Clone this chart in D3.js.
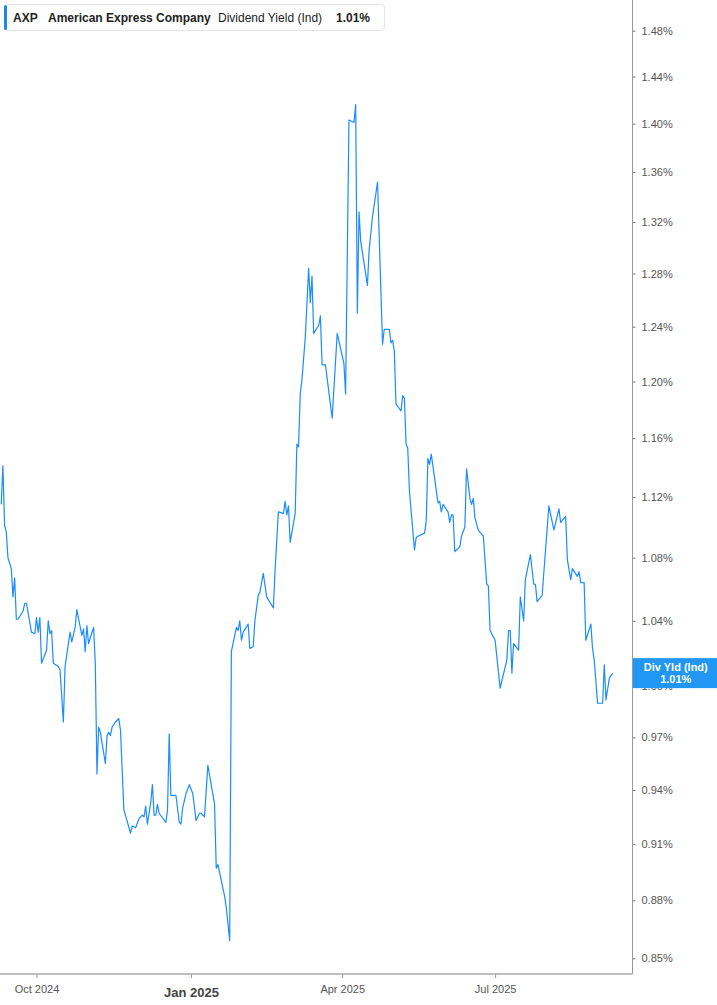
<!DOCTYPE html>
<html><head><meta charset="utf-8">
<script src="https://cdn.jsdelivr.net/npm/d3@7"></script>
<style>body{margin:0;background:#fff;} svg{display:block;font-family:"Liberation Sans",Arial,sans-serif;}</style>
</head><body><svg id="c" width="717" height="1005"></svg>
<script>
const ticker = "AXP";
const company = "American Express Company";
const metric = "Dividend Yield (Ind)";
const badgeTitle = "Div Yld (Ind)";

const dates = [
"2024-09-10","2024-09-11","2024-09-12","2024-09-13","2024-09-14","2024-09-16","2024-09-17","2024-09-18","2024-09-19","2024-09-20",
"2024-09-23","2024-09-24","2024-09-25","2024-09-28","2024-09-30","2024-10-01","2024-10-02","2024-10-03","2024-10-04","2024-10-07",
"2024-10-08","2024-10-09","2024-10-10","2024-10-11","2024-10-14","2024-10-15","2024-10-17","2024-10-18","2024-10-21","2024-10-22",
"2024-10-24","2024-10-25","2024-10-28","2024-10-29","2024-10-30","2024-10-31","2024-11-01","2024-11-04","2024-11-05","2024-11-06",
"2024-11-07","2024-11-08","2024-11-11","2024-11-12","2024-11-13","2024-11-14","2024-11-15","2024-11-17","2024-11-19","2024-11-20",
"2024-11-22","2024-11-26","2024-11-27","2024-11-29","2024-12-01","2024-12-03","2024-12-04","2024-12-05","2024-12-06","2024-12-08",
"2024-12-09","2024-12-10","2024-12-11","2024-12-12","2024-12-13","2024-12-17","2024-12-18","2024-12-19","2024-12-20","2024-12-23",
"2024-12-25","2024-12-26","2024-12-27","2024-12-29","2024-12-31","2025-01-02","2025-01-04","2025-01-06","2025-01-07","2025-01-09",
"2025-01-11","2025-01-13","2025-01-15","2025-01-16","2025-01-17","2025-01-21","2025-01-22","2025-01-24","2025-01-25","2025-01-28",
"2025-01-29","2025-01-30","2025-01-31","2025-02-01","2025-02-04","2025-02-05","2025-02-07","2025-02-08","2025-02-10","2025-02-11",
"2025-02-13","2025-02-15","2025-02-19","2025-02-20","2025-02-22","2025-02-25","2025-02-26","2025-02-27","2025-02-28","2025-03-01",
"2025-03-04","2025-03-05","2025-03-06","2025-03-07","2025-03-08","2025-03-10","2025-03-12","2025-03-13","2025-03-14","2025-03-15",
"2025-03-18","2025-03-19","2025-03-20","2025-03-22","2025-03-26","2025-03-29","2025-04-02","2025-04-03","2025-04-05","2025-04-08",
"2025-04-09","2025-04-10","2025-04-11","2025-04-12","2025-04-16","2025-04-17","2025-04-19","2025-04-22","2025-04-25","2025-04-26",
"2025-04-29","2025-04-30","2025-05-01","2025-05-02","2025-05-03","2025-05-06","2025-05-07","2025-05-08","2025-05-09","2025-05-10",
"2025-05-11","2025-05-14","2025-05-15","2025-05-16","2025-05-20","2025-05-21","2025-05-22","2025-05-23","2025-05-24","2025-05-28",
"2025-05-29","2025-05-30","2025-05-31","2025-06-03","2025-06-04","2025-06-05","2025-06-06","2025-06-07","2025-06-10","2025-06-11",
"2025-06-13","2025-06-14","2025-06-16","2025-06-17","2025-06-18","2025-06-19","2025-06-21","2025-06-24","2025-06-26","2025-06-27",
"2025-06-28","2025-07-01","2025-07-04","2025-07-08","2025-07-09","2025-07-10","2025-07-11","2025-07-12","2025-07-15","2025-07-16",
"2025-07-18","2025-07-19","2025-07-22","2025-07-24","2025-07-25","2025-07-26","2025-07-29","2025-08-02","2025-08-05","2025-08-08",
"2025-08-09","2025-08-12","2025-08-13","2025-08-15","2025-08-16","2025-08-19","2025-08-20","2025-08-21","2025-08-23","2025-08-24",
"2025-08-27","2025-08-28","2025-08-29","2025-08-31","2025-09-03","2025-09-04","2025-09-05","2025-09-07","2025-09-09"
];

const yields = [
1.115,1.141,1.101,1.097,1.080,1.073,1.055,1.067,1.041,1.041,
1.046,1.051,1.051,1.033,1.032,1.042,1.033,1.042,1.014,1.022,
1.040,1.032,1.034,1.014,1.012,1.010,0.979,1.012,1.033,1.027,
1.036,1.047,1.031,1.035,1.021,1.037,1.026,1.036,1.014,0.949,
0.976,0.973,0.955,0.971,0.973,0.971,0.976,0.979,0.981,0.974,
0.929,0.916,0.920,0.919,0.924,0.926,0.925,0.931,0.921,0.933,
0.943,0.926,0.926,0.932,0.927,0.922,0.929,0.972,0.937,0.937,
0.922,0.921,0.930,0.938,0.943,0.938,0.923,0.927,0.927,0.925,
0.954,0.943,0.932,0.897,0.899,0.882,0.876,0.859,1.021,1.036,
1.034,1.040,1.028,1.033,1.038,1.023,1.024,1.040,1.056,1.058,
1.070,1.055,1.048,1.072,1.110,1.109,1.117,1.108,1.114,1.090,
1.109,1.156,1.154,1.191,1.201,1.232,1.284,1.258,1.278,1.235,
1.241,1.248,1.212,1.212,1.174,1.235,1.213,1.191,1.403,1.401,
1.416,1.250,1.328,1.305,1.271,1.298,1.324,1.352,1.227,1.238,
1.238,1.228,1.230,1.222,1.184,1.179,1.190,1.188,1.156,1.153,
1.124,1.085,1.093,1.094,1.096,1.104,1.146,1.142,1.149,1.116,
1.117,1.110,1.115,1.110,1.103,1.108,1.108,1.084,1.087,1.094,
1.100,1.139,1.119,1.115,1.119,1.106,1.098,1.094,1.063,1.062,
1.034,1.028,0.999,1.016,1.034,1.034,1.008,1.026,1.022,1.055,
1.040,1.066,1.082,1.063,1.063,1.052,1.056,1.114,1.098,1.112,
1.103,1.107,1.079,1.066,1.073,1.068,1.071,1.064,1.064,1.028,
1.038,1.023,1.016,0.990,0.990,1.013,0.992,1.005,1.008
];

const yTickValues = [0.85,0.88,0.91,0.94,0.97,1.00,1.04,1.08,1.12,1.16,1.20,1.24,1.28,1.32,1.36,1.40,1.44,1.48];
const xTickDates = ["2024-10-01","2025-01-01","2025-04-01","2025-07-01"];
const xTickLabels = ["Oct 2024","Jan 2025","Apr 2025","Jul 2025"];
const xTickBold = [false,true,false,false];

const parse = d3.utcParse("%Y-%m-%d");
const data = dates.map((d,i)=>({date:parse(d), v:yields[i]}));

const W = 717, H = 1005;
const plotRight = 632.5, plotBottom = 974;
const lineColor = "#1a8cff";

const x = d3.scaleUtc()
  .domain([parse("2024-10-01"), parse("2025-07-01")])
  .range([36.5, 495.1]);
const y = d3.scaleLog()
  .domain([0.85, 1.48])
  .range([958.3, 30.7]);

const svg = d3.select("#c");

svg.append("defs").append("clipPath").attr("id","clip")
  .append("rect").attr("x",0).attr("y",0).attr("width",plotRight).attr("height",plotBottom);

// line
const line = d3.line().x(d=>x(d.date)).y(d=>y(d.v));
svg.append("path").datum(data)
  .attr("clip-path","url(#clip)")
  .attr("fill","none").attr("stroke",lineColor).attr("stroke-width",1.2)
  .attr("stroke-linejoin","round")
  .attr("d", line);

// right axis
const yAxis = d3.axisRight(y).tickValues(yTickValues)
  .tickFormat(d=>d.toFixed(2)+"%").tickSize(3).tickPadding(6);
const ya = svg.append("g").attr("transform",`translate(${plotRight},0)`).call(yAxis);
ya.select(".domain").remove();
ya.selectAll(".tick line").attr("stroke","#777");
ya.selectAll(".tick text").attr("fill","#555").attr("font-size",11)
  .attr("font-family",'"Liberation Sans",Arial,sans-serif');

svg.append("line").attr("x1",plotRight).attr("x2",plotRight).attr("y1",0).attr("y2",plotBottom)
  .attr("stroke","#999").attr("stroke-width",1);

// bottom axis
const xAxis = d3.axisBottom(x).tickValues(xTickDates.map(parse))
  .tickFormat((d,i)=>xTickLabels[i]).tickSize(4).tickPadding(7);
const xa = svg.append("g").attr("transform",`translate(0,${plotBottom})`).call(xAxis);
xa.select(".domain").remove();
xa.selectAll(".tick line").attr("stroke","#999");
xa.selectAll(".tick text")
  .attr("fill",(d,i)=>xTickBold[i]?"#444":"#555")
  .attr("font-size",(d,i)=>xTickBold[i]?13:11)
  .attr("font-weight",(d,i)=>xTickBold[i]?"bold":"normal")
  .attr("dy",(d,i)=>xTickBold[i]?"0.95em":"0.71em")
  .attr("font-family",'"Liberation Sans",Arial,sans-serif');
svg.append("line").attr("x1",0).attr("x2",plotRight).attr("y1",plotBottom).attr("y2",plotBottom)
  .attr("stroke","#aaa").attr("stroke-width",1.5);

// badge
const last = data[data.length-1];
const by = y(last.v);
const badge = svg.append("g");
badge.append("rect").attr("x",plotRight+0.5).attr("y",by-15).attr("width",W-plotRight).attr("height",30)
  .attr("fill","#2196f3");
badge.append("text").attr("x",(plotRight+W)/2+1).attr("y",by-2.5).attr("text-anchor","middle")
  .attr("fill","#fff").attr("font-size",11).attr("font-weight","bold").text(badgeTitle);
badge.append("text").attr("x",(plotRight+W)/2+1).attr("y",by+9.5).attr("text-anchor","middle")
  .attr("fill","#fff").attr("font-size",11).attr("font-weight","bold").text(last.v.toFixed(2)+"%");

// legend
const lg = svg.append("g");
lg.append("rect").attr("x",4.5).attr("y",4.5).attr("width",380).attr("height",26).attr("rx",3)
  .attr("fill","#fff").attr("stroke","#e4e4e4");
lg.append("rect").attr("x",4).attr("y",5).attr("width",3).attr("height",25).attr("rx",1.5).attr("fill","#1e88e5");
const ty = 21.5;
lg.append("text").attr("x",13).attr("y",ty).attr("font-size",12).attr("font-weight","bold").attr("fill","#222").text(ticker);
lg.append("text").attr("x",48).attr("y",ty).attr("font-size",12).attr("font-weight","bold").attr("fill","#222").text(company);
lg.append("text").attr("x",218).attr("y",ty).attr("font-size",12).attr("fill","#222").text(metric);
lg.append("text").attr("x",336).attr("y",ty).attr("font-size",12).attr("font-weight","bold").attr("fill","#222").text(last.v.toFixed(2)+"%");
</script>
</body></html>
